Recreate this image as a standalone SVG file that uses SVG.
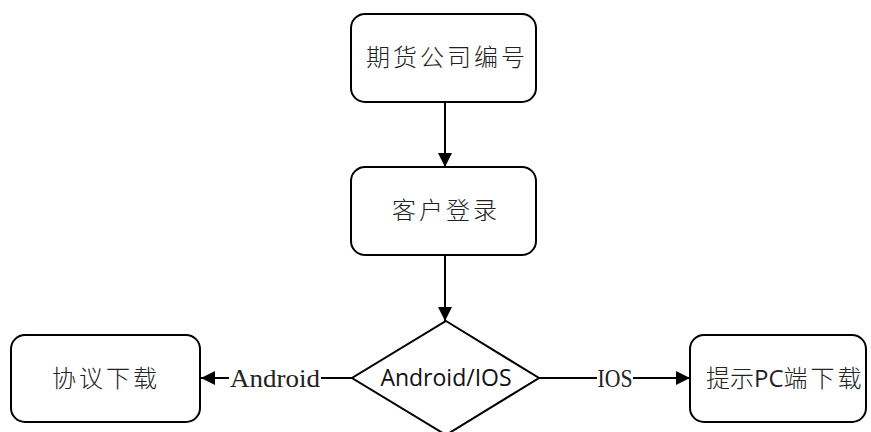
<svg xmlns="http://www.w3.org/2000/svg" width="871" height="432" viewBox="0 0 871 432">
<style>
.box{fill:#fff;stroke:#000;stroke-width:2}
.cn{font-family:"Noto Sans CJK SC","Noto Sans",sans-serif;font-size:24px;font-weight:300;fill:#222;text-anchor:middle;letter-spacing:3px}
.lbl{font-family:"Liberation Serif","Noto Sans CJK SC",serif;font-size:26px;fill:#222;text-anchor:middle}
.dia{font-family:"Open Sans","Noto Sans",sans-serif;font-size:23px;fill:#111;text-anchor:middle}
.ln{stroke:#000;stroke-width:2;fill:none}
</style>
<defs>
<marker id="ah" viewBox="0 0 10 10" refX="10" refY="5" markerWidth="14" markerHeight="14" markerUnits="userSpaceOnUse" orient="auto">
<path d="M0,0 L10,5 L0,10 z" fill="#000"/>
</marker>
</defs>
<rect width="871" height="432" fill="#fff"/>
<g id="connectors">
<line class="ln" x1="445" y1="102" x2="445" y2="167" marker-end="url(#ah)"/>
<line class="ln" x1="445" y1="255" x2="445" y2="321" marker-end="url(#ah)"/>
<line class="ln" x1="352" y1="378" x2="321" y2="378"/>
<line class="ln" x1="229" y1="378" x2="201" y2="378" marker-end="url(#ah)"/>
<text class="lbl" x="275" y="387" textLength="90" lengthAdjust="spacingAndGlyphs">Android</text>
<line class="ln" x1="539" y1="378" x2="597" y2="378"/>
<line class="ln" x1="633" y1="378" x2="690" y2="378" marker-end="url(#ah)"/>
<text class="lbl" x="615" y="387" textLength="35" lengthAdjust="spacingAndGlyphs">IOS</text>
</g>
<g id="n1">
<rect class="box" x="351" y="14" width="185" height="88" rx="14"/>
<text class="cn" x="447" y="66">期货公司编号</text>
</g>
<g id="n2">
<rect class="box" x="351" y="167" width="185" height="88" rx="14"/>
<text class="cn" x="446" y="219">客户登录</text>
</g>
<g id="n3">
<polygon class="box" points="446,321 539,378 446,435 352,378"/>
<text class="dia" x="446" y="386">Android/IOS</text>
</g>
<g id="n4">
<rect class="box" x="11" y="335" width="189" height="87" rx="14"/>
<text class="cn" x="106" y="387">协议下载</text>
</g>
<g id="n5">
<rect class="box" x="690" y="335" width="176" height="87" rx="14"/>
<text x="706" y="387" font-family="Noto Sans CJK SC, Noto Sans, sans-serif" font-size="24" font-weight="300" fill="#222">提示<tspan font-family="Open Sans, sans-serif" font-weight="400">PC</tspan>端<tspan dx="3">下</tspan><tspan dx="3">载</tspan></text>
</g>
</svg>
